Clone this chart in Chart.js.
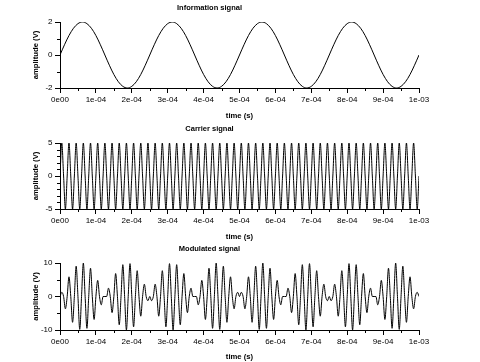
<!DOCTYPE html>
<html>
<head>
<meta charset="utf-8">
<script src="https://cdn.jsdelivr.net/npm/chart.js@4/dist/chart.umd.min.js"></script>
<style>
  html, body { margin: 0; padding: 0; background: #fff; }
  #wrap { position: relative; width: 480px; height: 362px; overflow: hidden; }
  canvas { position: absolute; left: 0; }
</style>
</head>
<body>
<div id="wrap">
  <canvas id="c1" width="480" height="121" style="top:0px"></canvas>
  <canvas id="c2" width="480" height="121" style="top:121px"></canvas>
  <canvas id="c3" width="480" height="121" style="top:241px"></canvas>
</div>
<script>
// ---------- data ----------
const chartTitles = ['Information signal', 'Carrier signal', 'Modulated signal'];
const xAxisTitle = 'time (s)';
const yAxisTitle = 'amplitude (V)';

const xTickValues = [0, 1e-4, 2e-4, 3e-4, 4e-4, 5e-4, 6e-4, 7e-4, 8e-4, 9e-4, 1e-3];
const xTickLabels = ['0e00', '1e-04', '2e-04', '3e-04', '4e-04', '5e-04', '6e-04', '7e-04', '8e-04', '9e-04', '1e-03'];
const xMinorTicks = [0.5e-4, 1.5e-4, 2.5e-4, 3.5e-4, 4.5e-4, 5.5e-4, 6.5e-4, 7.5e-4, 8.5e-4, 9.5e-4];

const infoYTicks = [-2, 0, 2];
const infoYMinor = [-1, 1];
const carrierYTicks = [-5, 0, 5];
const carrierYMinor = [-4, -3, -2, -1, 1, 2, 3, 4];
const modYTicks = [-10, 0, 10];
const modYMinor = [-5, 5];

// sample spacing (s)
const infoStep = 1.25e-5;
const carrierStep = 5e-6;
const modStep = 5e-6;

// information signal (V), 81 samples
const infoValues = [
  0,0.62,1.18,1.62,1.9,2,1.9,1.62,1.18,0.62,0,-0.62,-1.18,-1.62,-1.9,-2,-1.9,-1.62,-1.18,-0.62,
  0,0.62,1.18,1.62,1.9,2,1.9,1.62,1.18,0.62,0,-0.62,-1.18,-1.62,-1.9,-2,-1.9,-1.62,-1.18,-0.62,
  0,0.62,1.18,1.62,1.9,2,1.9,1.62,1.18,0.62,0,-0.62,-1.18,-1.62,-1.9,-2,-1.9,-1.62,-1.18,-0.62,
  0,0.62,1.18,1.62,1.9,2,1.9,1.62,1.18,0.62,0,-0.62,-1.18,-1.62,-1.9,-2,-1.9,-1.62,-1.18,-0.62,
  0
];

// carrier signal (V), 201 samples
const carrierValues = [
  0,5,0,-5,0,5,0,-5,0,5,0,-5,0,5,0,-5,0,5,0,-5,0,5,0,-5,0,5,0,-5,0,5,0,-5,0,5,0,-5,0,5,0,-5,
  0,5,0,-5,0,5,0,-5,0,5,0,-5,0,5,0,-5,0,5,0,-5,0,5,0,-5,0,5,0,-5,0,5,0,-5,0,5,0,-5,0,5,0,-5,
  0,5,0,-5,0,5,0,-5,0,5,0,-5,0,5,0,-5,0,5,0,-5,0,5,0,-5,0,5,0,-5,0,5,0,-5,0,5,0,-5,0,5,0,-5,
  0,5,0,-5,0,5,0,-5,0,5,0,-5,0,5,0,-5,0,5,0,-5,0,5,0,-5,0,5,0,-5,0,5,0,-5,0,5,0,-5,0,5,0,-5,
  0,5,0,-5,0,5,0,-5,0,5,0,-5,0,5,0,-5,0,5,0,-5,0,5,0,-5,0,5,0,-5,0,5,0,-5,0,5,0,-5,0,5,0,-5,
  0
];

// modulated signal (V), 201 samples
const modValues = [
  0,
  1.25,0,-3.68,0,5.88,0,-7.71,0,9.05,0,-9.82,0,9.98,0,-9.51,0,8.44,0,-6.85,0,4.82,0,-2.49,0,0,0,2.49,0,-4.82,0,6.85,0,-8.44,0,9.51,0,-9.98,0,9.82,0,-9.05,0,7.71,0,-5.88,0,3.68,0,-1.25,0,
  -1.25,0,3.68,0,-5.88,0,7.71,0,-9.05,0,9.82,0,-9.98,0,9.51,0,-8.44,0,6.85,0,-4.82,0,2.49,0,0,0,-2.49,0,4.82,0,-6.85,0,8.44,0,-9.51,0,9.98,0,-9.82,0,9.05,0,-7.71,0,5.88,0,-3.68,0,1.25,0,
  1.25,0,-3.68,0,5.88,0,-7.71,0,9.05,0,-9.82,0,9.98,0,-9.51,0,8.44,0,-6.85,0,4.82,0,-2.49,0,0,0,2.49,0,-4.82,0,6.85,0,-8.44,0,9.51,0,-9.98,0,9.82,0,-9.05,0,7.71,0,-5.88,0,3.68,0,-1.25,0,
  -1.25,0,3.68,0,-5.88,0,7.71,0,-9.05,0,9.82,0,-9.98,0,9.51,0,-8.44,0,6.85,0,-4.82,0,2.49,0,0,0,-2.49,0,4.82,0,-6.85,0,8.44,0,-9.51,0,9.98,0,-9.82,0,9.05,0,-7.71,0,5.88,0,-3.68,0,1.25,0
];

// ---------- drawing ----------
const FAMILY = "'Liberation Sans', Arial, Helvetica, sans-serif";

const minorTickPlugin = {
  id: 'minorTicks',
  afterDraw(chart, args, opts) {
    const ctx = chart.ctx;
    const xs = chart.scales.x, ys = chart.scales.y;
    ctx.save();
    ctx.strokeStyle = '#000';
    ctx.lineWidth = 1;
    ctx.beginPath();
    (opts.x || []).forEach(v => {
      const px = Math.round(xs.getPixelForValue(v)) + 0.5;
      ctx.moveTo(px, xs.top);
      ctx.lineTo(px, xs.top + 3);
    });
    (opts.y || []).forEach(v => {
      const py = Math.round(ys.getPixelForValue(v)) + 0.5;
      ctx.moveTo(ys.right, py);
      ctx.lineTo(ys.right - 3, py);
    });
    ctx.stroke();
    ctx.restore();
  }
};

function makeChart(id, title, values, step, yTicks, yMinor, areaBottom, canvasH) {
  const times = values.map((v, i) => i * step);
  return new Chart(document.getElementById(id), {
    type: 'line',
    data: {
      labels: times,
      datasets: [{
        data: values,
        borderColor: '#000',
        borderWidth: 1,
        pointRadius: 0,
        fill: false,
        cubicInterpolationMode: 'monotone'
      }]
    },
    options: {
      responsive: false,
      animation: false,
      devicePixelRatio: 1,
      events: [],
      layout: { padding: { left: 0, right: 61, top: 0, bottom: 0 } },
      plugins: {
        legend: { display: false },
        tooltip: { enabled: false },
        title: {
          display: true,
          text: title,
          color: '#000',
          font: { family: FAMILY, size: 7.5, weight: 'bold', lineHeight: 1.2 },
          padding: { top: 3.5, bottom: 9.5 }
        },
        minorTicks: { x: xMinorTicks, y: yMinor }
      },
      scales: {
        x: {
          type: 'linear',
          min: 0,
          max: 1e-3,
          afterBuildTicks: s => { s.ticks = xTickValues.map(v => ({ value: v })); },
          afterFit: s => { s.height = canvasH - areaBottom; },
          ticks: {
            autoSkip: false,
            maxRotation: 0,
            minRotation: 0,
            padding: 2,
            color: '#000',
            font: { family: FAMILY, size: 8 },
            callback: (v, i) => xTickLabels[i]
          },
          grid: { drawOnChartArea: false, tickLength: 5, color: '#000', tickColor: '#000' },
          border: { display: true, color: '#000', width: 1 },
          title: {
            display: true,
            text: xAxisTitle,
            color: '#000',
            font: { family: FAMILY, size: 7.7, weight: 'bold', lineHeight: 1.2 },
            padding: { top: 0, bottom: 0 }
          }
        },
        y: {
          type: 'linear',
          min: yTicks[0],
          max: yTicks[yTicks.length - 1],
          afterBuildTicks: s => { s.ticks = yTicks.map(v => ({ value: v })); },
          afterFit: s => { s.width = 60; },
          ticks: {
            padding: 2.5,
            color: '#000',
            font: { family: FAMILY, size: 8 },
            callback: v => String(v)
          },
          grid: { drawOnChartArea: false, tickLength: 5, color: '#000', tickColor: '#000' },
          border: { display: true, color: '#000', width: 1 },
          title: {
            display: true,
            text: yAxisTitle,
            color: '#000',
            font: { family: FAMILY, size: 7.7, weight: 'bold', lineHeight: 1.2 },
            padding: { top: 31, bottom: 0 }
          }
        }
      }
    },
    plugins: [minorTickPlugin]
  });
}

makeChart('c1', chartTitles[0], infoValues, infoStep, infoYTicks, infoYMinor, 88, 121);
makeChart('c2', chartTitles[1], carrierValues, carrierStep, carrierYTicks, carrierYMinor, 88, 121);
makeChart('c3', chartTitles[2], modValues, modStep, modYTicks, modYMinor, 89, 121);
</script>
</body>
</html>
